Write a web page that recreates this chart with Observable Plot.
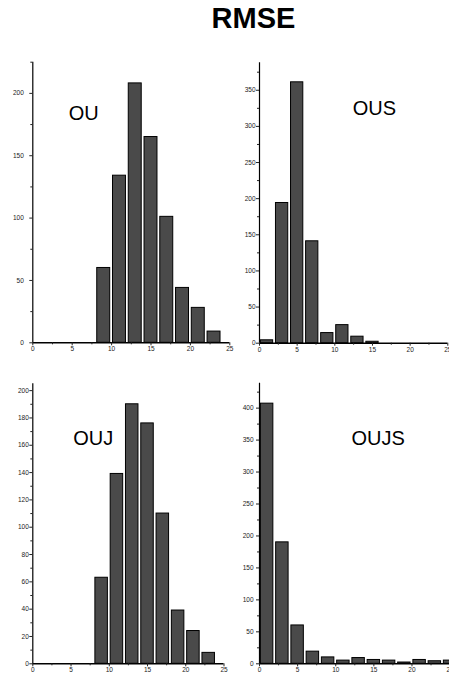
<!DOCTYPE html>
<html>
<head>
<meta charset="utf-8">
<script src="https://cdn.jsdelivr.net/npm/d3@7"></script>
<script src="https://cdn.jsdelivr.net/npm/@observablehq/plot@0.6"></script>
<style>
  html, body { margin: 0; padding: 0; background: #fff; overflow: hidden; }
  #chart { position: relative; width: 449px; height: 680px; overflow: hidden; background: #fff; }
  #title {
    position: absolute; left: 0; top: 3.8px; width: 507px; text-align: center;
    font: bold 29px/29px "Liberation Sans", Arial, sans-serif; color: #000;
  }
  #chart svg { position: absolute; max-width: none; background: transparent; }
</style>
</head>
<body>
<div id="chart"><div id="title">RMSE</div></div>
<script>
// Histogram bin centres (bin width 2) and counts for each model
const ouBins = [9, 11, 13, 15, 17, 19, 21, 23];
const ouCounts = [60, 134, 208, 165, 101, 44, 28, 9];

const ousBins = [1, 3, 5, 7, 9, 11, 13, 15];
const ousCounts = [4, 194, 361, 141, 14, 25, 9, 2];

const oujBins = [9, 11, 13, 15, 17, 19, 21, 23];
const oujCounts = [63, 139, 190, 176, 110, 39, 24, 8];

const oujsBins = [1, 3, 5, 7, 9, 11, 13, 15, 17, 19, 21, 23, 25];
const oujsCounts = [407, 190, 60, 19, 10, 5, 9, 6, 5, 2, 6, 4, 5];

// Tick values
const xMajor = [0, 5, 10, 15, 20, 25];
const xMinor = [2.5, 7.5, 12.5, 17.5, 22.5];
const yMajor50 = [0, 50, 100, 150, 200, 250, 300, 350, 400];
const yMinor50 = [25, 75, 125, 175, 225, 275, 325, 375, 425];
const yMajor20 = [0, 20, 40, 60, 80, 100, 120, 140, 160, 180, 200];
const yMinor20 = [10, 30, 50, 70, 90, 110, 130, 150, 170, 190];

const BAR_FILL = "#4a4a4a";
const FONT = "'Liberation Sans', Arial, sans-serif";

function panel(o) {
  const rows = o.bins.map((b, i) => ({bin: b, count: o.counts[i]}));
  const inRange = (arr) => arr.filter(v => v <= o.yMax);
  const svg = Plot.plot({
    width: o.width,
    height: o.height,
    marginLeft: o.ml,
    marginRight: o.mr,
    marginTop: o.mt,
    marginBottom: o.mb,
    style: {fontFamily: FONT, background: "transparent", overflow: "visible"},
    x: {domain: [0, 25], axis: null},
    y: {domain: [0, o.yMax], axis: null},
    marks: [
      Plot.rect(rows, {
        x1: d => d.bin - 1, x2: d => d.bin + 1, y1: 0, y2: "count",
        insetLeft: 1.4, insetRight: 1.4,
        fill: BAR_FILL, stroke: "#000", strokeWidth: 1
      }),
      Plot.ruleX([0], {stroke: "#000", strokeWidth: 1.2}),
      Plot.ruleY([0], {stroke: "#000", strokeWidth: 1.4}),
      Plot.axisX(xMajor, {tickSize: 3, tickPadding: 1, fontSize: 6.5, color: "#222", label: null, tickFormat: d => String(d)}),
      Plot.axisX(xMinor, {tickSize: 2, color: "#222", label: null, tickFormat: () => ""}),
      Plot.axisY(inRange(o.yMajor), {tickSize: 3, tickPadding: o.tickPad, fontSize: 6.5, color: "#222", label: null, tickFormat: d => String(d)}),
      Plot.axisY(inRange(o.yMinor), {tickSize: 2, color: "#222", label: null, tickFormat: () => ""}),
      Plot.text([o.name], {
        text: d => d, frameAnchor: "top-left", dx: o.labelDx, dy: o.labelDy,
        textAnchor: "start", lineAnchor: "top", fontSize: 20, fontFamily: FONT, fill: "#000"
      })
    ]
  });
  svg.style.left = o.left + "px";
  svg.style.top = o.top + "px";
  svg.style.maxWidth = "none";
  document.getElementById("chart").appendChild(svg);
}

panel({name: "OU", bins: ouBins, counts: ouCounts, yMax: 225, yMajor: yMajor50, yMinor: yMinor50,
  left: 0, top: 50, width: 240, height: 312.3, ml: 32.3, mr: 10.7, mt: 11.7, mb: 20,
  tickPad: 6, labelDx: 36, labelDy: 43.3});

panel({name: "OUS", bins: ousBins, counts: ousCounts, yMax: 388, yMajor: yMajor50, yMinor: yMinor50,
  left: 235, top: 50, width: 240, height: 312.7, ml: 24, mr: 27.7, mt: 12.3, mb: 20,
  tickPad: 1, labelDx: 93.3, labelDy: 37.7});

panel({name: "OUJ", bins: oujBins, counts: oujCounts, yMax: 205, yMajor: yMajor20, yMinor: yMinor20,
  left: 0, top: 370, width: 240, height: 313.3, ml: 32.3, mr: 16.5, mt: 13.3, mb: 20,
  tickPad: 1, labelDx: 40.4, labelDy: 46.7});

panel({name: "OUJS", bins: oujsBins, counts: oujsCounts, yMax: 439, yMajor: yMajor50, yMinor: yMinor50,
  left: 235, top: 370, width: 240, height: 313.3, ml: 24, mr: 25.4, mt: 12.7, mb: 20,
  tickPad: 3, labelDx: 92, labelDy: 47.3});
</script>
</body>
</html>
